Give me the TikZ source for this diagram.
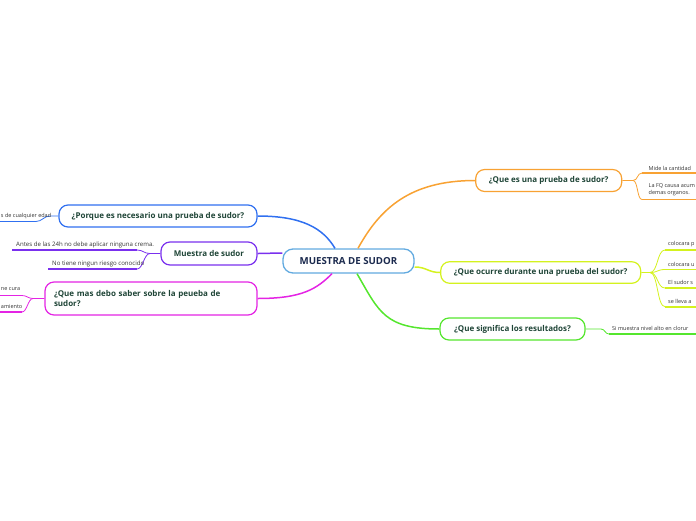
\documentclass[tikz,border=0pt]{standalone}
\usepackage{fontspec}
\setmainfont{Open Sans}
\usetikzlibrary{calc}
\definecolor{cblue}{HTML}{3070F0}
\definecolor{cpurple}{HTML}{7A30EE}
\definecolor{cmag}{HTML}{E424E4}
\definecolor{corange}{HTML}{F8A233}
\definecolor{cyellow}{HTML}{D4F21E}
\definecolor{cgreen}{HTML}{55E62E}
\definecolor{ccenter}{HTML}{62AAE0}
\definecolor{navy}{HTML}{1B2A4E}
\definecolor{titletxt}{HTML}{1F4537}
\definecolor{leaftxt}{HTML}{333333}
\tikzset{
  topic/.style={draw=#1, line width=1.2pt, rounded corners=9pt, fill=white,
    font=\fontsize{8}{9.5}\selectfont\bfseries, text=titletxt, inner sep=0pt},
  center/.style={draw=ccenter, line width=1.3pt, rounded corners=10pt, fill=white,
    font=\fontsize{9.7}{11}\selectfont\bfseries, text=navy, inner sep=0pt,
    minimum width=131pt, minimum height=24pt},
  branch/.style={draw=#1, line width=1.5pt},
  twig/.style={draw=#1, line width=0.8pt},
  uline/.style={draw=#1, line width=1.6pt},
  leaf/.style={font=\fontsize{6.1}{8}\selectfont, text=leaftxt, inner sep=0pt},
  leafedge/.style={font=\fontsize{5.5}{7.8}\selectfont, text=leaftxt, inner sep=0pt},
}
\begin{document}
\begin{tikzpicture}[x=1pt,y=-1pt]
\useasboundingbox (0,0) rectangle (696,520);
% central node
\node[center] (c) at (348.5,261) {MUESTRA DE SUDOR};
% right topics
\node[topic=corange, minimum width=146pt, minimum height=22pt] (o) at (548.7,180.5) {¿Que es una prueba de sudor?};
\node[topic=cyellow, minimum width=200pt, minimum height=21.6pt] (y) at (540.7,272.5) {¿Que ocurre durante una prueba del sudor?};
\node[topic=cgreen, minimum width=145pt, minimum height=22pt] (g) at (512.5,329) {¿Que significa los resultados?};
% left topics
\node[topic=cblue, minimum width=198pt, minimum height=22pt] (b) at (158,216) {¿Porque es necesario una prueba de sudor?};
\node[topic=cpurple, minimum width=96pt, minimum height=23pt] (p) at (209,253.5) {Muestra de sudor};
\node[topic=cmag, minimum width=212pt, minimum height=33pt, text width=194pt, align=left] (m) at (151,298.5) {¿Que mas debo saber sobre la peueba de\\sudor?};
% main branches
\draw[branch=cblue] ($(c.north)+(-13.5,0)$) .. controls +(-12,-20) and +(45,0) .. (b.east);
\draw[branch=cpurple] ($(c.west)+(0,-8)$) .. controls +(-10,0) and +(10,0) .. (p.east);
\draw[branch=cmag] ($(c.south)+(-16.5,0)$) .. controls +(-15,15) and +(45,0) .. (m.east);
\draw[branch=corange] ($(c.north)+(9.5,0)$) .. controls +(22,-40) and +(-65,0) .. (o.west);
\draw[branch=cyellow] ($(c.east)+(0,6)$) .. controls +(12,0) and +(-12,0) .. (y.west);
\draw[branch=cgreen] ($(c.south)+(8.5,0)$) .. controls +(22,38) and +(-55,0) .. (g.west);
% orange leaves
\coordinate (oj) at (633,180.5);
\coordinate (o1a) at (642,173); \coordinate (o1b) at (697,173);
\coordinate (o2a) at (642,199.5); \coordinate (o2b) at (697,199.5);
\draw[twig=corange] (o.east) -- (oj) .. controls +(5,0) and +(-5,0) .. (o1a);
\draw[twig=corange] (oj) .. controls +(5,0) and +(-5,0) .. (o2a);
\draw[uline=corange] (o1a) -- (o1b);
\draw[uline=corange] (o2a) -- (o2b);
\node[leafedge, anchor=west] (ol1) at (648.5,168) {Mide la cantidad};
\node[leafedge, anchor=north west, align=left] (ol2) at (648.5,183) {La FQ causa acum\\demas organos.};
% yellow leaves
\coordinate (yj) at (650,272.5);
\coordinate (y1a) at (665,250); \coordinate (y1b) at (697,250);
\coordinate (y2a) at (665,269.5); \coordinate (y2b) at (697,269.5);
\coordinate (y3a) at (665,288); \coordinate (y3b) at (697,288);
\coordinate (y4a) at (665,306.7); \coordinate (y4b) at (697,306.7);
\draw[twig=cyellow] (y.east) -- (yj) .. controls +(8,0) and +(-8,0) .. (y1a);
\draw[twig=cyellow] (yj) .. controls +(8,0) and +(-8,0) .. (y2a);
\draw[twig=cyellow] (yj) .. controls +(8,0) and +(-8,0) .. (y3a);
\draw[twig=cyellow] (yj) .. controls +(8,0) and +(-8,0) .. (y4a);
\draw[uline=cyellow] (y1a) -- (y1b);
\draw[uline=cyellow] (y2a) -- (y2b);
\draw[uline=cyellow] (y3a) -- (y3b);
\draw[uline=cyellow] (y4a) -- (y4b);
\node[leafedge, anchor=west] (yl1) at (668,244.5) {colocara p};
\node[leafedge, anchor=west] (yl2) at (668,264) {colocara u};
\node[leafedge, anchor=west] (yl3) at (668,282.5) {El sudor s};
\node[leafedge, anchor=west] (yl4) at (668,301.5) {se lleva a};
% green leaf
\coordinate (gj) at (601,329);
\coordinate (g1a) at (609,334); \coordinate (g1b) at (697,334);
\draw[twig=cgreen] (g.east) -- (gj) .. controls +(4,0) and +(-4,0) .. (g1a);
\draw[uline=cgreen] (g1a) -- (g1b);
\node[leafedge, anchor=west] (gl1) at (612,328.5) {Si muestra nivel alto en clorur};
% blue leaf
\coordinate (bj) at (50,216);
\coordinate (b1a) at (36,221.5); \coordinate (b1b) at (-1,221.5);
\draw[twig=cblue] (b.west) -- (bj) .. controls +(-6,0) and +(6,0) .. (b1a);
\draw[uline=cblue] (b1a) -- (b1b);
\node[leafedge, anchor=west] (bl1) at (0.8,216) {s de cualquier edad};
% purple leaves
\coordinate (pj) at (150,253.5);
\coordinate (p1a) at (137,250); \coordinate (p1b) at (12,250);
\coordinate (p2a) at (137,269); \coordinate (p2b) at (48,269);
\draw[twig=cpurple] (p.west) -- (pj) .. controls +(-6,0) and +(6,0) .. (p1a);
\draw[twig=cpurple] (pj) .. controls +(-6,0) and +(6,0) .. (p2a);
\draw[uline=cpurple] (p1a) -- (p1b);
\draw[uline=cpurple] (p2a) -- (p2b);
\node[leaf, anchor=west] (pl1) at (16,244.5) {Antes de las 24h no debe aplicar ninguna crema.};
\node[leaf, anchor=west] (pl2) at (52,264) {No tiene ningun riesgo conocido};
% magenta leaves
\coordinate (mj) at (33,298.5);
\coordinate (m1a) at (22,295.5); \coordinate (m1b) at (-1,295.5);
\coordinate (m2a) at (22,312); \coordinate (m2b) at (-1,312);
\draw[twig=cmag] (m.west) -- (mj) .. controls +(-5,0) and +(5,0) .. (m1a);
\draw[twig=cmag] (mj) .. controls +(-5,0) and +(5,0) .. (m2a);
\draw[uline=cmag] (m1a) -- (m1b);
\draw[uline=cmag] (m2a) -- (m2b);
\node[leafedge, anchor=west] (ml1) at (0.8,289.5) {ne cura};
\node[leafedge, anchor=west] (ml2) at (0.8,306.5) {amiento};
\end{tikzpicture}
\end{document}
